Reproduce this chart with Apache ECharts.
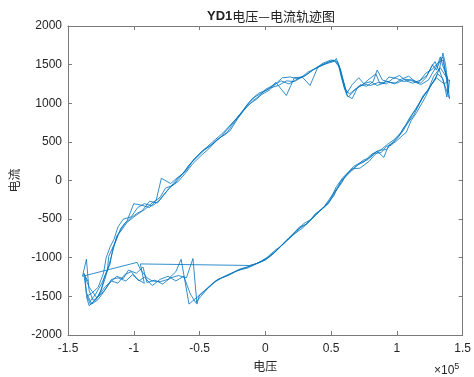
<!DOCTYPE html>
<html>
<head>
<meta charset="utf-8">
<script src="https://cdn.jsdelivr.net/npm/echarts@6/dist/echarts.min.js"></script>
<style>html,body{margin:0;padding:0;background:#fff}#c{width:474px;height:377px}</style>
</head>
<body>
<div id="c"></div>
<script>
// [voltage (x1e5 V), current (A)] samples, one array per traced cycle
var cycle1 = [[-1.33,-1560],[-1.29,-1470],[-1.24,-1320],[-1.20,-1150],[-1.19,-980],[-1.15,-830],[-1.12,-700],[-1.07,-560],[-1.02,-480],[-0.97,-420],[-0.92,-380],[-0.86,-290],[-0.80,-220],[-0.76,-100],[-0.70,-60],[-0.64,60],[-0.58,200],[-0.52,300],[-0.46,400],[-0.40,470],[-0.34,560],[-0.28,680],[-0.22,800],[-0.16,930],[-0.10,1060],[-0.05,1130],[0.02,1180],[0.08,1270],[0.16,1100],[0.22,1330],[0.28,1340],[0.32,1400],[0.38,1450],[0.44,1520],[0.50,1560],[0.55,1540],[0.58,1320],[0.62,1100],[0.66,1060],[0.70,1200],[0.76,1260],[0.80,1280],[0.85,1230],[0.90,1260],[0.94,1340],[1.00,1320],[1.05,1280],[1.10,1300],[1.16,1260],[1.22,1390],[1.27,1440],[1.31,1520],[1.35,1560],[1.37,1380],[1.39,1300],
  [1.33,1460],[1.28,1350],[1.24,1180],[1.20,1100],[1.16,960],[1.12,860],[1.08,740],[1.05,650],[1.01,560],[0.96,460],[0.92,440],[0.88,360],[0.82,350],[0.78,270],[0.72,230],[0.67,180],[0.62,90],[0.58,-30],[0.53,-150],[0.48,-300],[0.42,-380],[0.36,-480],[0.30,-580],[0.24,-640],[0.18,-740],[0.12,-850],[0.06,-950],[0.00,-1030],[-0.07,-1080],[-0.14,-1120],[-0.20,-1150],[-0.27,-1220],[-0.33,-1260],[-0.40,-1330],[-0.46,-1420],[-0.50,-1480],[-0.52,-1600],[-0.55,-1010],[-0.60,-1260],[-0.66,-1230],[-0.72,-1260],[-0.78,-1340],[-0.84,-1290],[-0.90,-1320],[-0.93,-1120],[-0.98,-1200],[-1.04,-1160],[-1.08,-1270],[-1.13,-1240],[-1.18,-1320],[-1.23,-1440],[-1.28,-1520],[-1.34,-1380],[-1.37,-1250]];
var cycle2 = [[-1.36,-1480],[-1.33,-1600],[-1.28,-1530],[-1.25,-1420],[-1.22,-1240],[-1.18,-1080],[-1.16,-880],[-1.13,-760],[-1.10,-620],[-1.05,-520],[-1.00,-300],[-0.94,-320],[-0.88,-350],[-0.83,-260],[-0.79,30],[-0.72,-40],[-0.68,20],[-0.62,100],[-0.56,240],[-0.50,350],[-0.44,440],[-0.38,530],[-0.32,620],[-0.26,730],[-0.19,860],[-0.12,990],[-0.06,1060],[0.00,1180],[0.06,1230],[0.12,1290],[0.18,1250],[0.24,1310],[0.31,1370],[0.36,1430],[0.42,1480],[0.48,1530],[0.52,1560],[0.57,1450],[0.61,1180],[0.64,1120],[0.68,1180],[0.74,1240],[0.78,1300],[0.84,1380],[0.87,1260],[0.93,1280],[0.98,1250],[1.03,1310],[1.09,1350],[1.14,1280],[1.18,1240],[1.24,1300],[1.28,1420],[1.31,1500],[1.33,1600],[1.35,1480],[1.38,1350],[1.40,1060],[1.36,1250],
  [1.30,1330],[1.26,1240],[1.22,1090],[1.19,1000],[1.15,880],[1.11,780],[1.07,620],[1.04,580],[0.99,500],[0.94,460],[0.90,300],[0.85,380],[0.80,300],[0.74,260],[0.69,180],[0.64,100],[0.60,30],[0.55,-90],[0.50,-210],[0.45,-330],[0.40,-420],[0.34,-520],[0.28,-620],[0.22,-690],[0.15,-790],[0.09,-900],[0.03,-990],[-0.04,-1060],[-0.12,-1100],[-0.95,-1080],[-0.92,-1330],[-0.97,-1280],[-1.02,-1180],[-1.07,-1220],[-1.12,-1330],[-1.17,-1300],[-1.22,-1380],[-1.27,-1500],[-1.31,-1580],[-1.34,-1620]];
var cycle3 = [[-1.36,-1500],[-1.32,-1460],[-1.27,-1380],[-1.23,-1200],[-1.21,-1000],[-1.18,-860],[-1.15,-760],[-1.12,-600],[-1.08,-500],[-1.02,-470],[-0.97,-350],[-0.92,-300],[-0.86,-330],[-0.80,-250],[-0.74,-120],[-0.70,-40],[-0.66,40],[-0.60,130],[-0.54,280],[-0.48,380],[-0.42,450],[-0.36,540],[-0.30,600],[-0.25,720],[-0.18,880],[-0.13,1000],[-0.08,1080],[-0.02,1140],[0.04,1200],[0.10,1230],[0.16,1290],[0.22,1280],[0.28,1340],[0.34,1230],[0.40,1470],[0.46,1510],[0.52,1540],[0.54,1580],[0.57,1420],[0.60,1200],[0.63,1080],[0.67,1150],[0.72,1240],[0.77,1220],[0.82,1280],[0.85,1430],[0.89,1300],[0.95,1270],[1.00,1260],[1.06,1310],[1.12,1300],[1.18,1260],[1.22,1330],[1.26,1460],[1.29,1540],[1.32,1420],[1.35,1650],[1.37,1500],[1.39,1220],[1.38,1080],
  [1.35,1320],[1.31,1380],[1.27,1260],[1.23,1150],[1.19,1060],[1.14,920],[1.10,820],[1.06,700],[1.03,620],[0.98,530],[0.93,470],[0.88,400],[0.83,330],[0.79,250],[0.72,160],[0.66,150],[0.61,60],[0.57,-20],[0.52,-200],[0.46,-320],[0.41,-400],[0.35,-500],[0.29,-560],[0.23,-680],[0.16,-780],[0.10,-880],[0.04,-970],[-0.02,-1040],[-0.10,-1100],[-0.17,-1140],[-0.24,-1190],[-0.30,-1240],[-0.36,-1280],[-0.42,-1370],[-0.48,-1460],[-0.54,-1540],[-0.58,-1600],[-0.64,-1020],[-0.68,-1180],[-0.74,-1280],[-0.80,-1310],[-0.86,-1300],[-0.90,-1260],[-0.95,-1150],[-0.975,-1060],[-1.39,-1240],[-1.36,-1020],[-1.34,-1420],[-1.31,-1550]];
var cycle4 = [[-1.28,-1520],[-1.25,-1430],[-1.22,-1280],[-1.19,-1100],[-1.16,-920],[-1.13,-720],[-1.10,-660],[-1.05,-540],[-0.99,-460],[-0.94,-400],[-0.88,-270],[-0.82,-290],[-0.78,-200],[-0.72,-80],[-0.66,-10],[-0.61,90],[-0.55,220],[-0.49,320],[-0.43,410],[-0.37,520],[-0.31,600],[-0.27,640],[-0.21,800],[-0.15,940],[-0.09,1040],[-0.03,1110],[0.03,1170],[0.09,1270],[0.13,1330],[0.19,1340],[0.24,1320],[0.30,1350],[0.37,1440],[0.43,1500],[0.49,1540],[0.53,1550],[0.56,1500],[0.59,1300],[0.62,1130],[0.66,1240],[0.71,1330],[0.75,1250],[0.80,1230],[0.86,1270],[0.92,1250],[0.97,1320],[1.02,1360],[1.07,1290],[1.12,1260],[1.18,1300],[1.23,1360],[1.27,1500],[1.30,1430],[1.33,1560],[1.35,1600],[1.37,1400],[1.39,1130],[1.40,1300],
  [1.36,1250],[1.32,1440],[1.29,1300],[1.25,1210],[1.21,1110],[1.17,990],[1.13,850],[1.09,760],[1.05,680],[1.02,590],[0.97,500],[0.92,400],[0.86,390],[0.80,330],[0.75,240],[0.70,200],[0.65,130],[0.59,40],[0.54,-80],[0.49,-260],[0.44,-360],[0.38,-430],[0.32,-560],[0.26,-600],[0.20,-720],[0.14,-820],[0.07,-910],[0.01,-1000],[-0.06,-1070],[-0.13,-1130],[-0.22,-1170],[-0.30,-1230],[-0.38,-1300],[-0.44,-1400],[-0.49,-1500],[-0.53,-1580],[-0.57,-1470],[-0.62,-1240],[-0.68,-1300],[-0.74,-1240],[-0.80,-1280],[-0.86,-1360],[-0.92,-1250],[-0.96,-1300],[-1.01,-1220],[-1.06,-1300],[-1.12,-1260],[-1.17,-1280],[-1.22,-1420],[-1.27,-1540],[-1.32,-1600],[-1.36,-1450],[-1.38,-1200],[-1.35,-1300]];
var xTicks = [-1.5, -1, -0.5, 0, 0.5, 1, 1.5];
var yTicks = [-2000, -1500, -1000, -500, 0, 500, 1000, 1500, 2000];

var pts = [].concat(cycle1, cycle2, cycle3, cycle4);

var axisColor = '#7a7a7a';
var labelColor = '#262626';
var chart = echarts.init(document.getElementById('c'));
var tickCommon = {show: true, inside: true, length: 4, lineStyle: {color: axisColor}};
function fmt(v) { return String(v); }
chart.setOption({
  animation: false,
  backgroundColor: '#fff',
  title: {
    text: '{b|YD1}{n|电压—电流轨迹图}',
    left: 266, top: 5, textAlign: 'center',
    textStyle: {
      rich: {
        b: {fontSize: 13, fontWeight: 'bold', color: '#222', fontFamily: 'Liberation Sans'},
        n: {fontSize: 13, fontWeight: 'normal', color: '#222', fontFamily: 'Noto Sans CJK SC'}
      }
    }
  },
  grid: {left: 68, right: 9, top: 26, bottom: 37},
  xAxis: [{
    type: 'value', min: xTicks[0], max: xTicks[xTicks.length - 1], interval: 0.5,
    axisLine: {onZero: false, lineStyle: {color: axisColor}}, axisTick: tickCommon, splitLine: {show: false},
    axisLabel: {color: labelColor, fontSize: 12, margin: 8, fontFamily: 'Liberation Sans', formatter: fmt},
    name: '电压', nameLocation: 'middle', nameGap: 25,
    nameTextStyle: {color: labelColor, fontSize: 12, fontFamily: 'Noto Sans CJK SC'}
  }, {
    type: 'value', position: 'top', min: xTicks[0], max: xTicks[xTicks.length - 1], interval: 0.5,
    axisLine: {show: true, onZero: false, lineStyle: {color: axisColor}}, axisTick: tickCommon,
    axisLabel: {show: false}, splitLine: {show: false}
  }],
  yAxis: [{
    type: 'value', min: yTicks[0], max: yTicks[yTicks.length - 1], interval: 500,
    axisLine: {show: true, onZero: false, lineStyle: {color: axisColor}}, axisTick: tickCommon, splitLine: {show: false},
    axisLabel: {color: labelColor, fontSize: 12, margin: 6, fontFamily: 'Liberation Sans', formatter: fmt},
    name: '电流', nameLocation: 'middle', nameGap: 40, nameRotate: 90,
    nameTextStyle: {color: labelColor, fontSize: 12, fontFamily: 'Noto Sans CJK SC'}
  }, {
    type: 'value', position: 'right', min: yTicks[0], max: yTicks[yTicks.length - 1], interval: 500,
    axisLine: {show: true, onZero: false, lineStyle: {color: axisColor}}, axisTick: tickCommon,
    axisLabel: {show: false}, splitLine: {show: false}
  }],
  graphic: [{
    type: 'text', left: 434, top: 362,
    style: {
      text: '×10{s|5}', fill: labelColor, font: '12px Liberation Sans',
      rich: {s: {fontSize: 9, verticalAlign: 'top', padding: [0, 0, 8, 0], fill: labelColor}}
    }
  }],
  series: [{
    type: 'line', xAxisIndex: 0, yAxisIndex: 0, data: pts,
    showSymbol: false, symbol: 'none',
    lineStyle: {color: '#0072BD', width: 0.8}
  }]
});
</script>
</body>
</html>
